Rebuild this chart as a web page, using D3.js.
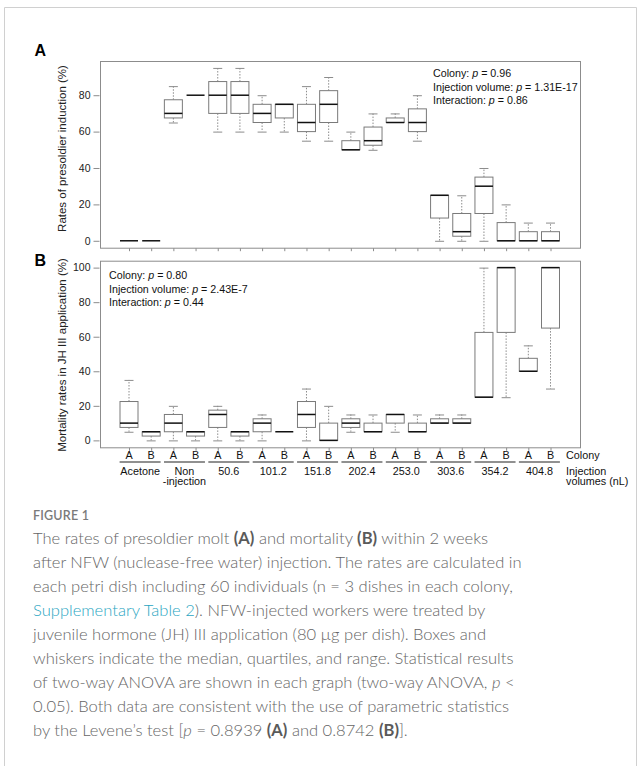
<!DOCTYPE html>
<html>
<head>
<meta charset="utf-8">
<script src="https://cdn.jsdelivr.net/npm/d3@7"></script>
<style>
  body { margin: 0; background: #fff; }
  svg text { font-family: "Liberation Sans", Arial, sans-serif; }
  .cap text { font-family: Lato, "Open Sans", sans-serif; }
</style>
</head>
<body>
<div class="graph"></div>
<script>
// groups: 10 injection volumes x 2 colonies
var colonies = ['A', 'B'];
var volumes = [['Acetone'], ['Non', '-injection'], ['50.6'], ['101.2'], ['151.8'],
               ['202.4'], ['253.0'], ['303.6'], ['354.2'], ['404.8']];

// box stats [min, q1, median, q3, max]
var presoldierA = [
  [0, 0, 0, 0, 0], [0, 0, 0, 0, 0],
  [65, 67.5, 70, 77.5, 85], [80, 80, 80, 80, 80],
  [60, 70, 80, 87.5, 95], [60, 70, 80, 87.5, 95],
  [60, 65, 70, 75, 80], [60, 67.5, 75, 75, 75],
  [55, 60, 65, 75, 85], [55, 65, 75, 82.5, 90],
  [50, 50, 50, 55, 60], [50, 52.5, 55, 62.5, 70],
  [65, 65, 65, 67.5, 70], [55, 60, 65, 72.5, 80],
  [0, 12.5, 25, 25, 25], [0, 2.5, 5, 15, 25],
  [0, 15, 30, 35, 40], [0, 0, 0, 10, 20],
  [0, 0, 0, 5, 10], [0, 0, 0, 5, 10]
];
var mortalityB = [
  [5, 7.5, 10, 22.5, 35], [0, 2.5, 5, 5, 5],
  [0, 5, 10, 15, 20], [0, 2.5, 5, 5, 5],
  [0, 7.5, 15, 17.5, 20], [0, 2.5, 5, 5, 5],
  [0, 5, 10, 12.5, 15], [5, 5, 5, 5, 5],
  [0, 7.5, 15, 22.5, 30], [0, 0, 0, 10, 20],
  [5, 7.5, 10, 12.5, 15], [5, 5, 5, 10, 15],
  [5, 10, 15, 15, 15], [5, 5, 5, 10, 15],
  [10, 10, 10, 12.5, 15], [10, 10, 10, 12.5, 15],
  [25, 25, 25, 62.5, 100], [25, 62.5, 100, 100, 100],
  [40, 40, 40, 47.5, 55], [30, 65, 100, 100, 100]
];
var ticksA = [0, 20, 40, 60, 80];
var ticksB = [0, 20, 40, 60, 80, 100];
var statsA = [['Colony: ', '0.96'], ['Injection volume: ', '1.31E-17'], ['Interaction: ', '0.86']];
var statsB = [['Colony: ', '0.80'], ['Injection volume: ', '2.43E-7'], ['Interaction: ', '0.44']];

var w = 641, h = 766;
var svg = d3.select('div.graph').append('svg').attr('width', w).attr('height', h);

// card border (open at the bottom)
svg.append('path').attr('d', 'M4.5,766V7.5H636.5V766')
  .attr('fill', 'none').attr('stroke', '#d0d0d0');

var frameL = 100, frameR = 580;
var x = d3.scaleLinear().domain([1, 20]).range([129, 550.5]);
var boxW = 18;

function panel(data, ticks, top, bottom, dom, title, titleY, label, labelY, stats, statX, statY) {
  var y = d3.scaleLinear().domain(dom).range([bottom, top]);
  var g = svg.append('g');

  g.append('rect').attr('x', frameL + 0.5).attr('y', top + 0.5)
    .attr('width', frameR - frameL).attr('height', bottom - top)
    .attr('fill', 'none').attr('stroke', '#8c8c8c');

  // y axis
  var yAxis = d3.axisLeft(y).tickValues(ticks).tickSize(6).tickSizeOuter(0);
  var ya = g.append('g').attr('transform', 'translate(' + (frameL - 0.5) + ',0)').call(yAxis);
  ya.select('.domain').remove();
  ya.selectAll('line').attr('stroke', '#8c8c8c');
  ya.selectAll('text').attr('font-size', 10.5).attr('fill', '#222').attr('x', -9)
    .style('font-family', '"Liberation Sans", Arial, sans-serif');

  // x ticks (unlabelled)
  var xAxis = d3.axisBottom(x).tickValues(d3.range(1, 21)).tickSize(3).tickFormat('');
  var xa = g.append('g').attr('transform', 'translate(0,' + (bottom + 0.5) + ')').call(xAxis);
  xa.select('.domain').remove();
  xa.selectAll('line').attr('stroke', '#8c8c8c');

  g.append('text').attr('transform', 'translate(66,' + titleY + ') rotate(-90)')
    .attr('text-anchor', 'middle').attr('font-size', 11.5).attr('fill', '#222').text(title);

  g.append('text').attr('x', 34.5).attr('y', labelY).attr('font-size', 16)
    .attr('font-weight', 'bold').attr('fill', '#000').text(label);

  var box = g.selectAll('.box').data(data).enter().append('g').attr('class', 'box')
    .attr('transform', function(d, i) { return 'translate(' + x(i + 1) + ',0)'; });

  // whiskers
  box.filter(function(d) { return d[4] > d[3]; }).append('line')
    .attr('y1', function(d) { return y(d[3]); }).attr('y2', function(d) { return y(d[4]); })
    .attr('stroke', '#8c8c8c').attr('stroke-dasharray', '1.5,1.5');
  box.filter(function(d) { return d[0] < d[1]; }).append('line')
    .attr('y1', function(d) { return y(d[1]); }).attr('y2', function(d) { return y(d[0]); })
    .attr('stroke', '#8c8c8c').attr('stroke-dasharray', '1.5,1.5');
  box.filter(function(d) { return d[4] > d[3]; }).append('line')
    .attr('x1', -boxW / 4).attr('x2', boxW / 4)
    .attr('y1', function(d) { return y(d[4]) + 0.5; }).attr('y2', function(d) { return y(d[4]) + 0.5; })
    .attr('stroke', '#8c8c8c');
  box.filter(function(d) { return d[0] < d[1]; }).append('line')
    .attr('x1', -boxW / 4).attr('x2', boxW / 4)
    .attr('y1', function(d) { return y(d[0]) + 0.5; }).attr('y2', function(d) { return y(d[0]) + 0.5; })
    .attr('stroke', '#8c8c8c');

  box.filter(function(d) { return d[3] > d[1]; }).append('rect')
    .attr('x', -boxW / 2).attr('width', boxW)
    .attr('y', function(d) { return y(d[3]); })
    .attr('height', function(d) { return y(d[1]) - y(d[3]); })
    .attr('fill', '#fff').attr('stroke', '#7a7a7a');

  box.append('line').attr('x1', -boxW / 2).attr('x2', boxW / 2)
    .attr('y1', function(d) { return y(d[2]); }).attr('y2', function(d) { return y(d[2]); })
    .attr('stroke', '#111').attr('stroke-width', 1.5);

  var st = g.append('g').selectAll('text').data(stats).enter().append('text')
    .attr('x', statX).attr('y', function(d, i) { return statY + i * 13.6; })
    .attr('font-size', 10.7).attr('fill', '#111');
  st.append('tspan').text(function(d) { return d[0]; });
  st.append('tspan').attr('font-style', 'italic').text('p');
  st.append('tspan').text(function(d) { return ' = ' + d[1]; });
}

panel(presoldierA, ticksA, 61, 247.7, [-3.8, 98.8], 'Rates of presoldier induction (%)', 148.5,
      'A', 55.5, statsA, 433, 77);
panel(mortalityB, ticksB, 260.7, 447.3, [-4, 104], 'Mortality rates in JH III application (%)', 355,
      'B', 266, statsB, 109, 279);

// category labels under panel B
var lab = svg.append('g').attr('font-size', 10.8).attr('fill', '#111');
lab.selectAll('.col').data(d3.range(20)).enter().append('text')
  .attr('x', function(i) { return x(i + 1); }).attr('y', 458.5)
  .attr('text-anchor', 'middle').text(function(i) { return colonies[i % 2]; });
var pair = lab.selectAll('.pair').data(volumes).enter().append('g')
  .attr('transform', function(d, i) { return 'translate(' + (x(2 * i + 1) + x(2 * i + 2)) / 2 + ',0)'; });
pair.append('line').attr('x1', -20.5).attr('x2', 20.5).attr('y1', 462).attr('y2', 462)
  .attr('stroke', '#222').attr('stroke-width', 1.2);
pair.selectAll('text').data(function(d) { return d; }).enter().append('text')
  .attr('text-anchor', 'middle').attr('y', function(d, i) { return 474.5 + i * 10.5; })
  .text(function(d) { return d; });
lab.append('text').attr('x', 566).attr('y', 458.5).text('Colony');
lab.append('text').attr('x', 566).attr('y', 474.5).text('Injection');
lab.append('text').attr('x', 566).attr('y', 485).text('volumes (nL)');

// caption
var cap = svg.append('g').attr('class', 'cap');
cap.append('text').attr('x', 33).attr('y', 519.5).attr('font-size', 12.5)
  .attr('fill', '#7a7a7a').attr('font-weight', 600).attr('letter-spacing', 0.2).text('FIGURE 1');

var capLines = [
  [['The rates of presoldier molt '], ['(A)', 'b'], [' and mortality '], ['(B)', 'b'], [' within 2 weeks']],
  [['after NFW (nuclease-free water) injection. The rates are calculated in']],
  [['each petri dish including 60 individuals (n = 3 dishes in each colony,']],
  [['Supplementary Table 2', 'link'], ['). NFW-injected workers were treated by']],
  [['juvenile hormone (JH) III application (80 \u00b5g per dish). Boxes and']],
  [['whiskers indicate the median, quartiles, and range. Statistical results']],
  [['of two-way ANOVA are shown in each graph (two-way ANOVA, '], ['p', 'i'], [' <']],
  [['0.05). Both data are consistent with the use of parametric statistics']],
  [['by the Levene\u2019s test ['], ['p', 'i'], [' = 0.8939 '], ['(A)', 'b'], [' and 0.8742 '], ['(B)', 'b'], [']. ']]
];
var capText = cap.selectAll('.line').data(capLines).enter().append('text')
  .attr('x', 33).attr('y', function(d, i) { return 544 + i * 24; })
  .attr('font-size', 17).attr('fill', '#666').attr('font-weight', 300);
capText.selectAll('tspan').data(function(d) { return d; }).enter().append('tspan')
  .attr('font-weight', function(d) { return d[1] === 'b' ? 700 : null; })
  .attr('fill', function(d) { return d[1] === 'link' ? '#2ba6c2' : d[1] === 'b' ? '#5a5a5a' : null; })
  .attr('font-style', function(d) { return d[1] === 'i' ? 'italic' : null; })
  .text(function(d) { return d[0]; });

// fit caption width: line 2 spans about 489px in the reference
var natural = capText.filter(function(d, i) { return i === 1; }).node().getComputedTextLength();
capText.attr('font-size', 17 * 489 / natural);
</script>
</body>
</html>
